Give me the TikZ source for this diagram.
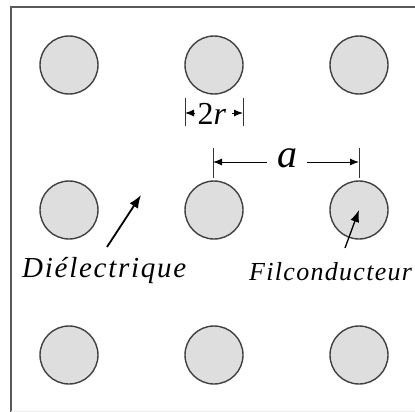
\documentclass[tikz,border=0pt]{standalone}
\usepackage{fontspec}
\setmainfont{Liberation Serif}
\usetikzlibrary{arrows.meta}
\begin{document}
\begin{tikzpicture}[x=1pt,y=-1pt,
  wire/.style={circle,draw=black!75,line width=1.4pt,fill=black!13,minimum size=58pt,inner sep=0pt},
  tick/.style={line width=1pt,black!80},
  dimarrow/.style={line width=1pt,-{Latex[length=9pt,width=7pt]}},
  lblarrow/.style={line width=1.8pt,-{Latex[length=13pt,width=10pt]}},
  lbl/.style={inner sep=0pt,anchor=base west,font=\fontsize{29}{30}\selectfont\itshape\addfontfeature{LetterSpace=6}}
]
\useasboundingbox (0,0) rectangle (415,412);
% frame
\draw[line width=1.6pt,black!65] (11,412) -- (11,7) -- (416,7);
\draw[line width=0.6pt,black!8] (11,411) -- (416,411);
% wires
\foreach \i/\x in {1/69,2/214,3/359}{
  \foreach \j/\y in {1/65,2/210,3/355}{
    \node[wire] (c\j\i) at (\x,\y) {};
  }
}
% 2r dimension
\coordinate (rl) at (185,113);
\coordinate (rr) at (243,113);
\draw[tick] (185,98) -- (185,126);
\draw[tick] (243,98) -- (243,126);
\node[inner sep=0pt,font=\fontsize{32}{32}\selectfont] (tr) at (212,114) {2\textit{r}};
\draw[dimarrow] (195,113) -- (rl);
\draw[dimarrow] (232,113) -- (rr);
% a dimension
\coordinate (al) at (213,162);
\coordinate (ar) at (359,162);
\draw[tick] (213,148) -- (213,178);
\draw[tick] (359,148) -- (359,178);
\node[inner sep=0pt,font=\fontsize{40}{40}\selectfont\itshape] (ta) at (287,158) {a};
\draw[dimarrow] (267,162) -- (al);
\draw[dimarrow] (307,162) -- (ar);
% labels
\node[lbl] (diel) at (22,277) {Diélectrique};
\coordinate (dpt) at (141,195);
\draw[lblarrow] (107,247) -- (dpt);
\node[lbl,font=\fontsize{26}{28}\selectfont\itshape\addfontfeature{LetterSpace=5}] (fil) at (249,280) {Filconducteur};
\draw[line width=1.3pt,-{Latex[length=12pt,width=9pt]}] (345,248) -- (c23.center);
\end{tikzpicture}
\end{document}
